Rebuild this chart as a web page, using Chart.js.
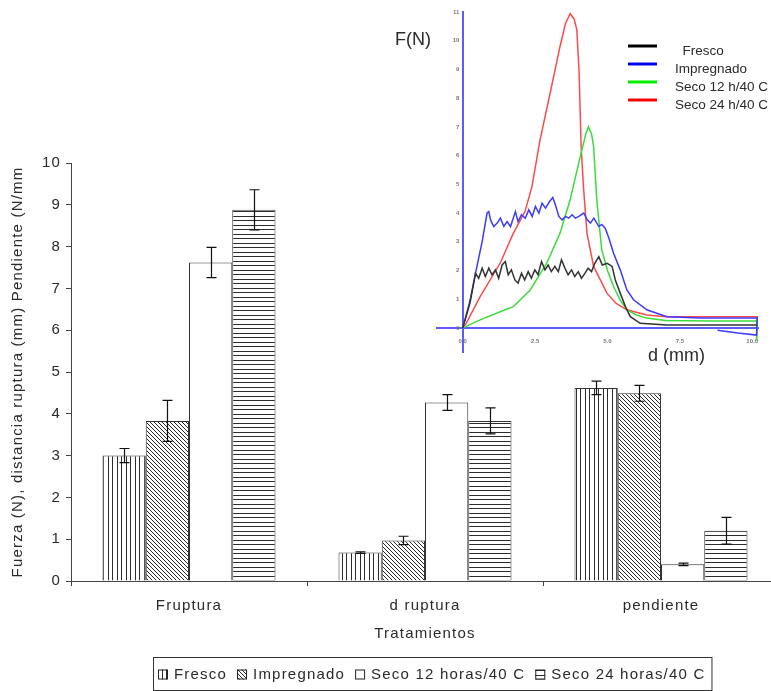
<!DOCTYPE html>
<html>
<head>
<meta charset="utf-8">
<script src="https://cdn.jsdelivr.net/npm/chart.js@4.4.1/dist/chart.umd.min.js"></script>
<style>
  html, body { margin: 0; padding: 0; background: #fff; overflow: hidden; }
  #wrap { position: relative; width: 771px; height: 691px; overflow: hidden; }
  #barChart { position: absolute; left: 0; top: 0; }
  #curveChart { position: absolute; left: 380px; top: 0; }
</style>
</head>
<body>
<div id="wrap">
  <canvas id="barChart" width="800" height="691"></canvas>
  <canvas id="curveChart" width="391" height="372"></canvas>
</div>
<script>
// ---- bar chart data ----
const categories = ['Fruptura', 'd ruptura', 'pendiente'];
const treatments = ['Fresco', 'Impregnado', 'Seco 12 horas/40 C', 'Seco 24 horas/40 C'];

const fresco = [3.0, 0.68, 4.62];
const frescoErr = [0.17, 0.02, 0.16];
const impregnado = [3.83, 0.97, 4.49];
const impregnadoErr = [0.49, 0.10, 0.19];
const seco12 = [7.62, 4.27, 0.40];
const seco12Err = [0.36, 0.19, 0.03];
const seco24 = [8.88, 3.83, 1.20];
const seco24Err = [0.48, 0.31, 0.32];

const yTicks = [0, 1, 2, 3, 4, 5, 6, 7, 8, 9, 10];

// ---- force / displacement curves (inset) ----
const curveNames = ['  Fresco', 'Impregnado', 'Seco 12 h/40 C', 'Seco 24 h/40 C'];

const frescoD = [0, 0.25, 0.44, 0.55, 0.67, 0.78, 0.9, 1.01, 1.13, 1.24, 1.36, 1.47, 1.57, 1.68, 1.8, 1.91, 2.03, 2.14, 2.26, 2.37, 2.49, 2.6, 2.72, 2.84, 2.95, 3.06, 3.18, 3.3, 3.41, 3.53, 3.64, 3.76, 3.87, 3.99, 4.1, 4.22, 4.33, 4.45, 4.56, 4.7, 4.82, 4.99, 5.16, 5.27, 5.44, 5.62, 5.79, 6.13, 7.05, 8.5, 10.17];
const frescoF = [0, 0.86, 1.9, 1.73, 2.08, 1.79, 2.08, 1.85, 2.02, 1.73, 2.19, 2.31, 1.85, 2.02, 1.67, 1.56, 1.9, 1.67, 1.96, 1.73, 2.02, 1.85, 2.31, 2.02, 2.19, 1.96, 2.14, 1.96, 2.37, 2.08, 1.85, 2.02, 1.79, 1.96, 1.73, 1.9, 2.08, 1.96, 2.25, 2.48, 2.19, 2.25, 2.14, 1.67, 1.21, 0.74, 0.39, 0.16, 0.1, 0.1, 0.1];

const impD = [0, 0.25, 0.44, 0.67, 0.84, 0.9, 0.96, 1.07, 1.19, 1.3, 1.42, 1.53, 1.65, 1.82, 1.91, 2.03, 2.16, 2.28, 2.4, 2.51, 2.63, 2.74, 2.86, 3.0, 3.11, 3.2, 3.32, 3.43, 3.55, 3.66, 3.78, 3.89, 4.01, 4.18, 4.3, 4.41, 4.53, 4.7, 4.8, 4.92, 5.05, 5.21, 5.44, 5.67, 5.9, 6.36, 7.05, 8.21, 10.17, 10.15, 9.5, 8.8];
const impF = [0, 0.95, 1.9, 3.0, 4.0, 4.05, 3.76, 3.53, 3.65, 3.82, 3.53, 3.7, 3.53, 4.05, 3.7, 3.94, 3.82, 4.11, 3.88, 4.23, 4.0, 4.34, 4.17, 4.4, 4.54, 4.29, 3.88, 3.76, 3.88, 3.82, 3.94, 3.82, 3.88, 4.0, 3.76, 3.65, 3.82, 3.53, 3.6, 3.47, 3.12, 2.6, 2.02, 1.32, 0.98, 0.63, 0.39, 0.34, 0.34, -0.25, -0.18, -0.08];

const s12D = [0, 0.6, 1.46, 1.75, 2.33, 2.9, 3.36, 3.71, 4.06, 4.25, 4.34, 4.45, 4.52, 4.63, 4.8, 5.0, 5.21, 5.45, 5.67, 6.0, 6.36, 7.0, 8.5, 10.17, 10.15];
const s12F = [0, 0.28, 0.63, 0.74, 1.32, 2.25, 3.3, 4.46, 5.97, 6.75, 7.0, 6.75, 6.32, 4.46, 2.72, 2.0, 1.44, 0.95, 0.63, 0.45, 0.34, 0.26, 0.24, 0.24, -0.45];

const s24D = [0, 0.1, 0.6, 1.29, 1.75, 2.15, 2.39, 2.67, 3.02, 3.36, 3.55, 3.71, 3.85, 3.94, 4.02, 4.09, 4.17, 4.29, 4.52, 4.98, 5.3, 5.67, 6.36, 7.05, 8.5, 10.17, 10.15];
const s24F = [0, 0.12, 1.09, 2.25, 3.3, 4.05, 4.92, 6.55, 8.18, 9.8, 10.6, 10.94, 10.75, 10.38, 8.9, 6.3, 4.92, 3.3, 2.14, 1.21, 0.85, 0.63, 0.45, 0.39, 0.39, 0.39, -0.4];

const dTicks = [0, 2.5, 5, 7.5, 10];
const fTicks = [0, 1, 2, 3, 4, 5, 6, 7, 8, 9, 10, 11];

const FONT = "'Liberation Sans', Arial, sans-serif";
const TEXT = '#2a2a2a';

// hatch fills for the bars
const barCanvas = document.getElementById('barChart');
const barCtx = barCanvas.getContext('2d');

function hatch(w, h, paint) {
    const c = document.createElement('canvas');
    c.width = w;
    c.height = h;
    const g = c.getContext('2d');
    g.fillStyle = '#fff';
    g.fillRect(0, 0, w, h);
    g.fillStyle = '#2b2b2b';
    paint(g, w, h);
    return barCtx.createPattern(c, 'repeat');
}

const vertical = hatch(9, 2, (g, w, h) => {
    g.fillRect(0, 0, 1, h);
    g.fillRect(4, 0, 1, h);
});
const diagonal = hatch(4, 4, (g) => {
    for (let i = 0; i < 4; i++) g.fillRect(i, i, 1, 1);
});
const horizontal = hatch(2, 9, (g, w) => {
    g.fillRect(0, 0, w, 1);
    g.fillRect(0, 4, w, 1);
});

const barValues = [fresco, impregnado, seco12, seco24];
const barErrors = [frescoErr, impregnadoErr, seco12Err, seco24Err];
const barFills = [vertical, diagonal, '#ffffff', horizontal];

// old spreadsheet text is a little spread out
const spacing = {
    id: 'spacing',
    beforeDraw(chart) {
        chart.ctx.letterSpacing = '1.2px';
    }
};

const errorBars = {
    id: 'errorBars',
    afterDatasetsDraw(chart) {
        const ctx = chart.ctx;
        const y = chart.scales.y;
        ctx.save();
        ctx.strokeStyle = '#111';
        ctx.lineWidth = 1.2;
        chart.data.datasets.forEach((ds, i) => {
            chart.getDatasetMeta(i).data.forEach((bar, j) => {
                const v = ds.data[j];
                const e = ds.errors[j];
                const top = y.getPixelForValue(v + e);
                const bot = y.getPixelForValue(v - e);
                const x = Math.round(bar.x) + 0.5;
                ctx.beginPath();
                ctx.moveTo(x, top);
                ctx.lineTo(x, bot);
                ctx.moveTo(x - 5, top);
                ctx.lineTo(x + 5, top);
                ctx.moveTo(x - 5, bot);
                ctx.lineTo(x + 5, bot);
                ctx.stroke();
            });
        });
        ctx.restore();
    }
};

// legend in a framed box under the axis title
const boxedLegend = {
    id: 'boxedLegend',
    afterDraw(chart) {
        const ctx = chart.ctx;
        const left = 153, top = 657, h = 33;
        const cy = top + h / 2 + 1;
        ctx.save();
        ctx.font = '15px ' + FONT;
        ctx.letterSpacing = '1.2px';
        ctx.textBaseline = 'middle';
        let x = left + 5;
        chart.data.datasets.forEach((ds) => {
            ctx.fillStyle = ds.backgroundColor;
            ctx.fillRect(x, cy - 5, 10, 10);
            ctx.strokeStyle = '#222';
            ctx.lineWidth = 1;
            ctx.strokeRect(x + 0.5, cy - 4.5, 9, 9);
            x += 16;
            ctx.fillStyle = TEXT;
            ctx.fillText(ds.label, x, cy);
            x += ctx.measureText(ds.label).width + 10;
        });
        ctx.strokeStyle = '#333';
        ctx.lineWidth = 1;
        ctx.strokeRect(left + 0.5, top + 0.5, x - left - 4, h);
        ctx.restore();
    }
};

new Chart(barCanvas, {
    type: 'bar',
    data: {
        labels: categories,
        datasets: treatments.map((name, i) => ({
            label: name,
            data: barValues[i],
            errors: barErrors[i],
            backgroundColor: barFills[i],
            borderColor: '#333',
            borderWidth: 1
        }))
    },
    options: {
        responsive: false,
        animation: false,
        layout: {
            padding: { top: 163, right: 21, bottom: 40, left: 0 }
        },
        datasets: {
            bar: { categoryPercentage: 0.733, barPercentage: 1 }
        },
        plugins: {
            legend: { display: false },
            tooltip: { enabled: false }
        },
        scales: {
            x: {
                grid: { offset: true, drawOnChartArea: false, tickLength: 5, color: '#444' },
                border: { color: '#444' },
                ticks: {
                    color: TEXT,
                    padding: 11,
                    font: { size: 15, family: FONT }
                },
                title: {
                    display: true,
                    text: 'Tratamientos',
                    color: TEXT,
                    padding: { top: 0, bottom: 8 },
                    font: { size: 15, family: FONT }
                },
                afterFit(scale) { scale.height = 70; }
            },
            y: {
                min: 0,
                max: 10,
                afterBuildTicks(scale) { scale.ticks = yTicks.map(v => ({ value: v })); },
                grid: { drawOnChartArea: false, tickLength: 5, color: '#444' },
                border: { color: '#444' },
                ticks: {
                    color: TEXT,
                    padding: 5,
                    font: { size: 15, family: FONT }
                },
                title: {
                    display: true,
                    text: 'Fuerza (N), distancia ruptura (mm) Pendiente (N/mm',
                    color: TEXT,
                    padding: { top: 9, bottom: 0 },
                    font: { size: 15, family: FONT }
                },
                afterFit(scale) { scale.width = 71; }
            }
        }
    },
    plugins: [spacing, errorBars, boxedLegend]
});

// ---- inset: F(N) against d (mm) ----
function curve(label, d, f, color, key) {
    return {
        label: label,
        data: d.map((x, i) => ({ x: x, y: f[i] })),
        borderColor: color,
        keyColor: key,
        showLine: true,
        pointRadius: 0,
        borderWidth: 1.5,
        tension: 0
    };
}

const curveLabels = {
    id: 'curveLabels',
    afterDraw(chart) {
        const ctx = chart.ctx;
        ctx.save();
        ctx.fillStyle = TEXT;
        ctx.textBaseline = 'middle';
        ctx.font = '18px ' + FONT;
        ctx.fillText('F(N)', 15, 40);
        ctx.fillText('d (mm)', 268, 356);
        ctx.font = '13.5px ' + FONT;
        chart.data.datasets.forEach((ds, i) => {
            const y = 46 + i * 18;
            ctx.strokeStyle = ds.keyColor;
            ctx.lineWidth = 3;
            ctx.beginPath();
            ctx.moveTo(248, y);
            ctx.lineTo(277, y);
            ctx.stroke();
            ctx.fillText(ds.label, 295, y + 5);
        });
        ctx.restore();
    }
};

const tinyTicks = { size: 6, weight: 'bold', family: FONT };

new Chart(document.getElementById('curveChart'), {
    type: 'scatter',
    data: {
        datasets: [
            curve(curveNames[0], frescoD, frescoF, '#333333', '#000000'),
            curve(curveNames[1], impD, impF, '#3b3bff', '#0000ee'),
            curve(curveNames[2], s12D, s12F, '#3ddc3d', '#00ee00'),
            curve(curveNames[3], s24D, s24F, '#ff4a4a', '#ff0000')
        ]
    },
    options: {
        responsive: false,
        animation: false,
        layout: {
            padding: { left: 57, right: 13, top: 12, bottom: 20 }
        },
        plugins: {
            legend: { display: false },
            tooltip: { enabled: false }
        },
        scales: {
            x: {
                type: 'linear',
                position: { y: 0 },
                min: -0.89,
                max: 10.2,
                afterBuildTicks(scale) { scale.ticks = dTicks.map(v => ({ value: v })); },
                grid: { display: false },
                border: { color: '#5c5cff', width: 2 },
                ticks: {
                    callback: v => v.toFixed(1),
                    color: '#777',
                    padding: 2,
                    maxRotation: 0,
                    autoSkip: false,
                    font: tinyTicks
                }
            },
            y: {
                type: 'linear',
                position: { x: 0 },
                min: -0.84,
                max: 11,
                afterBuildTicks(scale) { scale.ticks = fTicks.map(v => ({ value: v })); },
                grid: { display: false },
                border: { color: '#5c5cff', width: 2 },
                ticks: {
                    callback: v => v + '  ',
                    color: '#777',
                    font: tinyTicks
                }
            }
        }
    },
    plugins: [curveLabels]
});
</script>
</body>
</html>
